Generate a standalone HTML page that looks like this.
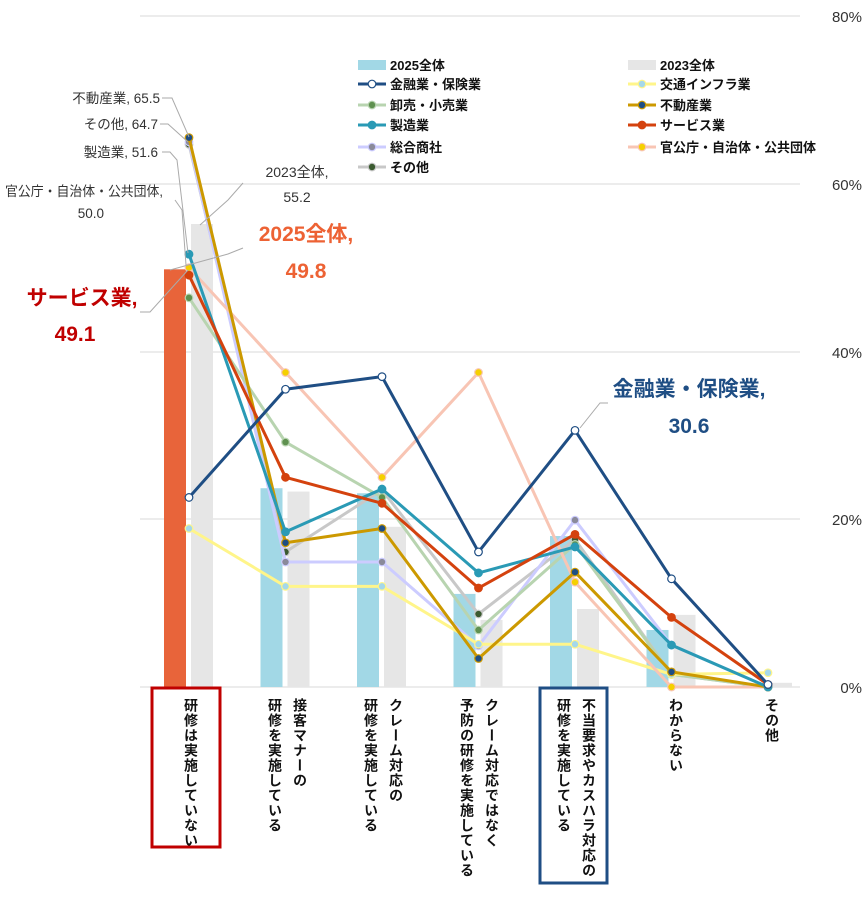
<!DOCTYPE html>
<html><head><meta charset="utf-8"><style>
body{margin:0;background:#fff;width:868px;height:897px;overflow:hidden;font-family:"Liberation Sans","Noto Sans CJK JP",sans-serif}
svg{position:absolute;left:0;top:0}
.xl{position:absolute;top:698px;writing-mode:vertical-rl;font-size:14px;font-weight:bold;line-height:25px;color:#111;letter-spacing:1px}
</style></head><body>
<svg id="s" width="868" height="897" font-family="Liberation Sans, Noto Sans CJK JP, sans-serif">
<g stroke="#d9d9d9" stroke-width="1">
<line x1="140" y1="16" x2="800" y2="16"/><line x1="140" y1="184" x2="800" y2="184"/>
<line x1="140" y1="352" x2="800" y2="352"/><line x1="140" y1="519" x2="800" y2="519"/>
<line x1="140" y1="687" x2="800" y2="687"/></g>
<g font-size="15" fill="#333" text-anchor="end">
<text x="862" y="22">80%</text><text x="862" y="190">60%</text><text x="862" y="358">40%</text><text x="862" y="525">20%</text><text x="862" y="693">0%</text></g>
<g id="bars"></g><g id="lines"></g>
<g stroke="#aaa" stroke-width="1" fill="none">
<polyline points="162,98 172,98 189,137"/>
<polyline points="160,124 168,124 188,142"/>
<polyline points="162,152 170,152 177,160 188,253"/>
<polyline points="175,200 182,210 186,265"/>
<polyline points="243,183 228,200 200,225"/>
<polyline points="243,248 228,254 170,270"/>
<polyline points="140,312 150,312 188,270"/>
<polyline points="608,403 600,403 580,428"/>
</g>
<g font-size="13.5" fill="#333" text-anchor="end">
<text x="160" y="103">不動産業, 65.5</text>
<text x="158" y="129">その他, 64.7</text>
<text x="158" y="157">製造業, 51.6</text>
<text x="163" y="196" textLength="158" lengthAdjust="spacingAndGlyphs">官公庁・自治体・公共団体,</text>
<text x="104" y="218">50.0</text></g>
<g font-size="14" fill="#333" text-anchor="middle"><text x="297" y="177">2023全体,</text><text x="297" y="202">55.2</text></g>
<g font-size="21" font-weight="bold" text-anchor="middle">
<text x="306" y="241" fill="#ed6234">2025全体,</text><text x="306" y="278" fill="#ed6234">49.8</text>
<text x="82" y="305" fill="#c00000">サービス業,</text><text x="75" y="341" fill="#c00000">49.1</text>
<text x="689" y="396" fill="#1f4e84">金融業・保険業,</text><text x="689" y="433" fill="#1f4e84">30.6</text></g>
<rect x="152" y="688" width="68" height="159" fill="none" stroke="#c00000" stroke-width="3"/>
<rect x="540" y="688" width="67" height="195" fill="none" stroke="#1f4e84" stroke-width="3"/>
<g id="leg" font-size="13" font-weight="bold" fill="#111"></g>
</svg>
<div class="xl" style="left:178px">研修は実施していない</div>
<div class="xl" style="left:262px">接客マナーの<br>研修を実施している</div>
<div class="xl" style="left:358px">クレーム対応の<br>研修を実施している</div>
<div class="xl" style="left:454px">クレーム対応ではなく<br>予防の研修を実施している</div>
<div class="xl" style="left:551px">不当要求やカスハラ対応の<br>研修を実施している</div>
<div class="xl" style="left:663px">わからない</div>
<div class="xl" style="left:759px">その他</div>
<script>
const NS="http://www.w3.org/2000/svg";
function el(p,t,a){const e=document.createElementNS(NS,t);for(const k in a)e.setAttribute(k,a[k]);p.appendChild(e);return e;}
const cx=i=>189+i*96.5, cy=v=>687-v*8.3875;
const b25=[49.8,23.7,23.1,11.1,18.0,6.8,0.3], b23=[55.2,23.3,19.1,8.0,9.3,8.6,0.5];
const B=document.getElementById('bars');
for(let i=0;i<7;i++){
 el(B,'rect',{x:cx(i)+2,y:cy(b23[i]),width:22,height:b23[i]*8.3875,fill:'#e6e6e6'});
 el(B,'rect',{x:cx(i)-25,y:cy(b25[i]),width:22,height:b25[i]*8.3875,fill:i==0?'#e8643a':'#a2d8e6'});
}
const S=[
 ['その他','#c8c8c8','#3b5a30',[64.7,16.1,23.5,8.7,17.6,1.5,0]],
 ['総合商社','#ccccff','#8a8a9a',[65,14.9,14.9,4.9,19.9,5,0]],
 ['卸売・小売業','#b8d4b0','#5f9150',[46.4,29.2,22.6,6.8,17,1.5,0]],
 ['交通インフラ業','#fff58a','#a5d8ea',[18.9,12.0,12.0,5.1,5.1,1.5,1.7]],
 ['官公庁・自治体・公共団体','#f8c5b4','#f5d000',[50.0,37.5,25.0,37.5,12.5,0,0]],
 ['不動産業','#cc9900','#1f4e84',[65.5,17.2,18.9,3.4,13.7,1.8,0]],
 ['製造業','#2a9ab5','#2a9ab5',[51.6,18.5,23.6,13.6,16.7,5,0]],
 ['サービス業','#d4420e','#d4420e',[49.1,25.0,21.9,11.8,18.2,8.3,0.3]],
 ['金融業・保険業','#1f4e84','#fff',[22.6,35.5,37.0,16.1,30.6,12.9,0.3]],
];
const L=document.getElementById('lines');
S.forEach(s=>{
 el(L,'polyline',{points:s[3].map((v,i)=>cx(i)+','+cy(v)).join(' '),fill:'none',stroke:s[1],'stroke-width':3,'stroke-linejoin':'round'});
 s[3].forEach((v,i)=>el(L,'circle',{cx:cx(i),cy:cy(v),r:3.8,fill:s[2],stroke:s[0]=='金融業・保険業'?'#1f4e84':s[1],'stroke-width':1.2}));
});
const G=document.getElementById('leg');
const leg=[
 [358,65,'2025全体','bar','#a2d8e6'],[628,65,'2023全体','bar','#e6e6e6'],
 [358,84,'金融業・保険業',8],[628,84,'交通インフラ業',3],
 [358,105,'卸売・小売業',2],[628,105,'不動産業',5],
 [358,125,'製造業',6],[628,125,'サービス業',7],
 [358,147,'総合商社',1],[628,147,'官公庁・自治体・公共団体',4],
 [358,167,'その他',0]];
leg.forEach(l=>{
 if(l[3]=='bar') el(G,'rect',{x:l[0],y:l[1]-5,width:28,height:10,fill:l[4]});
 else{const s=S[l[3]];el(G,'line',{x1:l[0],y1:l[1],x2:l[0]+28,y2:l[1],stroke:s[1],'stroke-width':3});
  el(G,'circle',{cx:l[0]+14,cy:l[1],r:3.8,fill:s[2],stroke:l[3]==8?'#1f4e84':s[1],'stroke-width':1.2});}
 const t=el(G,'text',{x:l[0]+32,y:l[1]+5});t.textContent=l[2];
});
</script>
</body></html>
